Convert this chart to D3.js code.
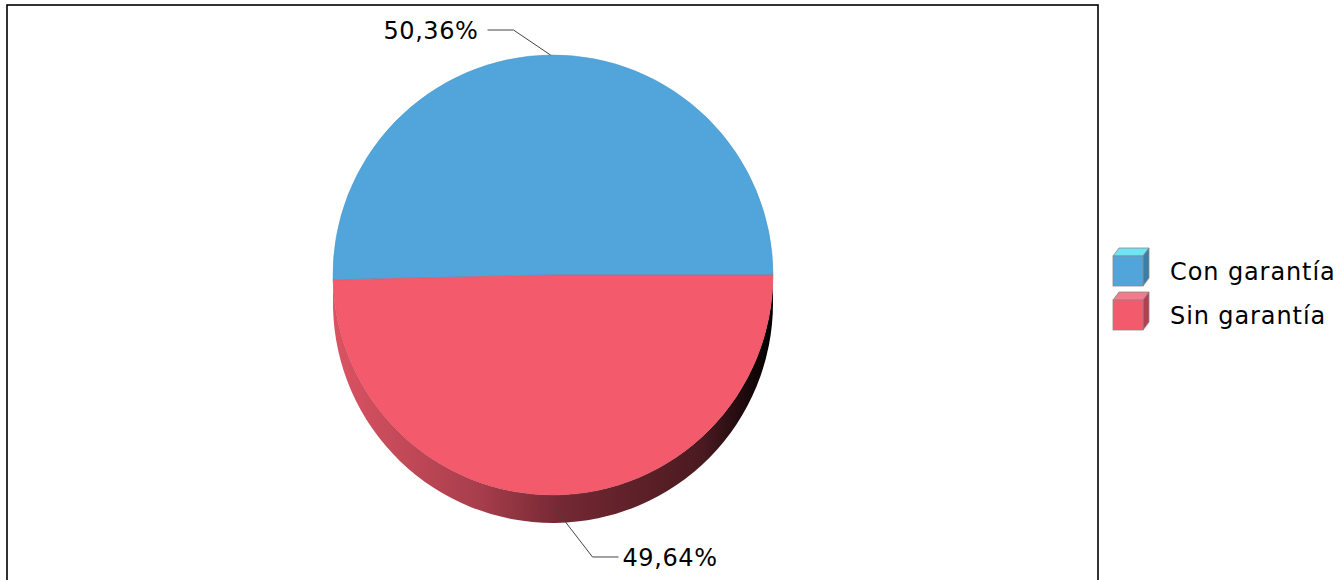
<!DOCTYPE html>
<html>
<head>
<meta charset="utf-8">
<script src="https://cdnjs.cloudflare.com/ajax/libs/d3/7.8.5/d3.min.js"></script>
<style>
  body { margin: 0; background: #fff; }
  svg { display: block; font-family: "DejaVu Sans", sans-serif; }
</style>
</head>
<body>
<script>
  // chart data
  var categories = ["Con garantía", "Sin garantía"];
  var shares = [50.36, 49.64];
  var labels = ["50,36%", "49,64%"];

  var colors = ["#52a5da", "#f35a6c"],
      topColors = ["#70e4f4", "#f27b8c"],
      sideColors = ["#3b7ea8", "#b53f50"];

  var width = 1342,
      height = 580;

  var cx = 553, cy = 275, r = 220, depth = 28;

  var svg = d3.select("body").append("svg")
      .attr("width", width)
      .attr("height", height);

  // frame around the plot area
  svg.append("rect")
    .attr("x", 7).attr("y", 5)
    .attr("width", 1091).attr("height", 600)
    .attr("fill", "none")
    .attr("stroke", "#000")
    .attr("stroke-width", 1.6);

  // gradient for the side of the pie
  var grad = svg.append("defs").append("linearGradient")
      .attr("id", "side")
      .attr("x1", "0%").attr("y1", "0%")
      .attr("x2", "100%").attr("y2", "0%");
  [[0, "#db5363"], [0.33, "#a83e4c"], [0.52, "#742833"], [0.84, "#4a1a20"], [0.95, "#170709"], [1, "#000"]]
    .forEach(function(s) {
      grad.append("stop").attr("offset", s[0]).attr("stop-color", s[1]);
    });

  // start at 3 o'clock and go counter-clockwise
  var pie = d3.pie()
      .sort(null)
      .startAngle(Math.PI / 2)
      .endAngle(Math.PI / 2 - 2 * Math.PI);

  var arcs = pie(shares);

  var arc = d3.arc().innerRadius(0).outerRadius(r);

  var g = svg.append("g").attr("transform", "translate(" + cx + "," + cy + ")");

  // side band, only for the part of the slices on the lower half
  arcs.forEach(function(d, i) {
    var a0 = Math.min(d.startAngle, d.endAngle),
        a1 = Math.max(d.startAngle, d.endAngle);
    var lo = Math.PI / 2, hi = 3 * Math.PI / 2;
    [0, -2 * Math.PI, 2 * Math.PI].forEach(function(k) {
      var s = Math.max(a0 + k, lo), e = Math.min(a1 + k, hi);
      if (e - s < 0.001) return;
      var p = d3.path();
      p.moveTo(r * Math.sin(s), -r * Math.cos(s));
      p.arc(0, 0, r, s - Math.PI / 2, e - Math.PI / 2, false);
      p.lineTo(r * Math.sin(e), -r * Math.cos(e) + depth);
      p.arc(0, depth, r, e - Math.PI / 2, s - Math.PI / 2, true);
      p.closePath();
      g.append("path")
        .attr("d", p.toString())
        .attr("fill", i == 1 ? "url(#side)" : sideColors[i]);
    });
  });

  // top face
  g.selectAll("path.slice")
    .data(arcs)
    .enter()
    .append("path")
    .attr("class", "slice")
    .attr("d", arc)
    .attr("fill", function(d, i) { return colors[i]; })
    .attr("stroke", function(d, i) { return d3.color(colors[i]).darker(0.2); })
    .attr("stroke-width", 0.6);

  // labels with leader lines
  arcs.forEach(function(d, i) {
    var mid = (d.startAngle + d.endAngle) / 2;
    var x0 = r * Math.sin(mid),
        y0 = -r * Math.cos(mid);
    var down = y0 > 0;
    if (down) y0 += depth / 2;
    var side = x0 < 0 ? -1 : 1;
    var x1 = x0 + side * 37,
        y1 = y0 + (down ? 48 : -25);
    var x2 = x1 + side * 26;
    g.append("polyline")
      .attr("points", [[x0, y0], [x1, y1], [x2, y1]].join(" "))
      .attr("fill", "none")
      .attr("stroke", "#444")
      .attr("stroke-width", 1);
    g.append("text")
      .attr("x", x2 + side * (side < 0 ? 9 : 4))
      .attr("y", y1)
      .attr("dy", "0.36em")
      .attr("text-anchor", side < 0 ? "end" : "start")
      .attr("font-size", 24)
      .attr("letter-spacing", 0.6)
      .attr("fill", "#000")
      .text(labels[i]);
  });

  // legend with small cubes
  var legend = svg.append("g").attr("transform", "translate(1113,256)");
  var box = 30, off = 6, step = 44;

  categories.forEach(function(c, i) {
    var lg = legend.append("g").attr("transform", "translate(0," + (i * step) + ")");
    lg.append("path")
      .attr("d", "M0,0 L" + off + "," + (-off - 2) + " L" + (box + off) + "," + (-off - 2) + " L" + box + ",0 Z")
      .attr("fill", topColors[i]).attr("stroke", "#888").attr("stroke-width", 0.8);
    lg.append("path")
      .attr("d", "M" + box + ",0 L" + (box + off) + "," + (-off - 2) + " L" + (box + off) + "," + (box - off - 2) + " L" + box + "," + box + " Z")
      .attr("fill", sideColors[i]).attr("stroke", "#888").attr("stroke-width", 0.8);
    lg.append("rect")
      .attr("width", box).attr("height", box)
      .attr("fill", colors[i]).attr("stroke", "#888").attr("stroke-width", 0.8);
    lg.append("text")
      .attr("x", 57)
      .attr("y", box / 2)
      .attr("dy", "0.36em")
      .attr("font-size", 24)
      .attr("letter-spacing", 0.9)
      .attr("fill", "#000")
      .text(c);
  });
</script>
</body>
</html>
